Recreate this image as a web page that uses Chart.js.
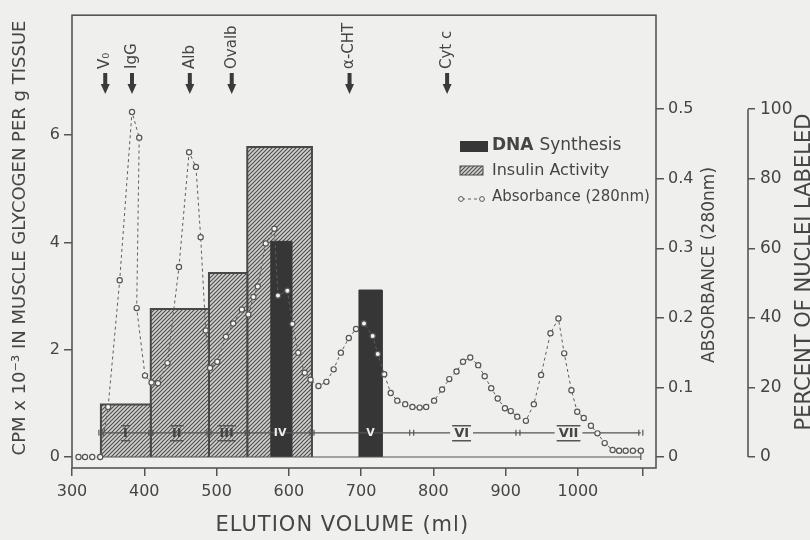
<!DOCTYPE html>
<html>
<head>
<meta charset="utf-8">
<script src="https://cdn.jsdelivr.net/npm/chart.js@4.4.0/dist/chart.umd.min.js"></script>
<style>
  html, body { margin: 0; padding: 0; background: #efefed; }
</style>
</head>
<body>
<canvas id="elutionChart" width="810" height="540"></canvas>
<script>
// Absorbance (280 nm) of the eluate
const volume = [309, 318, 328, 339, 350, 366, 383, 393, 389.5, 401, 410, 419, 432, 448, 462, 471.5, 478, 485, 491, 501,
  513, 523, 535, 544, 551, 557, 568, 580, 585, 598, 605, 613, 622, 630, 641, 652, 662, 672, 683, 693,
  704, 716, 723, 732, 741, 750, 761, 771, 781, 790, 801, 812, 822, 832, 841, 851, 862, 871, 880, 889,
  899, 907, 916, 928, 939, 949, 962, 973, 981, 991, 999, 1008, 1018, 1027, 1037, 1048, 1057, 1066, 1076, 1087];
const absorbance = [0, 0, 0, 0, 0.072, 0.254, 0.496, 0.459, 0.214, 0.117, 0.107, 0.106, 0.135, 0.273, 0.438, 0.417, 0.316, 0.182, 0.128, 0.137,
  0.173, 0.192, 0.212, 0.205, 0.230, 0.245, 0.307, 0.328, 0.232, 0.239, 0.191, 0.150, 0.121, 0.111, 0.102, 0.108, 0.126, 0.150, 0.171, 0.184,
  0.192, 0.174, 0.148, 0.119, 0.092, 0.081, 0.076, 0.072, 0.071, 0.072, 0.081, 0.097, 0.112, 0.123, 0.137, 0.143, 0.132, 0.116, 0.099, 0.084,
  0.070, 0.066, 0.058, 0.052, 0.076, 0.118, 0.178, 0.199, 0.149, 0.096, 0.065, 0.056, 0.045, 0.034, 0.020, 0.010, 0.009, 0.009, 0.009, 0.009];

// Insulin activity per pooled fraction (CPM x 10^-3 in muscle glycogen per g tissue)
const insulinStart = [340, 409, 489.5, 542.5];
const insulinEnd = [409, 489.5, 542.5, 632];
const insulinValue = [0.98, 2.76, 3.43, 5.78];

// DNA synthesis (percent of nuclei labeled)
const dnaStart = [575, 697];
const dnaEnd = [604, 729];
const dnaValue = [62, 48];

// Pooled fractions I - VII
const fractionEdges = [340, 409, 489.5, 542.5, 632, 770, 917, 1087];
const fractionNames = ["I", "II", "III", "IV", "V", "VI", "VII"];
const fractionAt = [374, 445, 514, 588, 713, 839, 987];
const fractionLevel = 0.45;

// Calibration markers
const markerNames = ["V\u2080", "IgG", "Alb", "Ovalb", "\u03b1-CHT", "Cyt c"];
const markerAt = [346, 383, 463, 521, 684, 819];

// Tick labels
const xTicks = [300, 400, 500, 600, 700, 800, 900, 1000, 1090];
const leftTicks = [0, 2, 4, 6];
const absTicks = [0, 0.1, 0.2, 0.3, 0.4, 0.5];
const pctTicks = [0, 20, 40, 60, 80, 100];

const PAPER = "#efefed";
const INK = "#454545";
const LINE = "#555555";
const DARK = "#363636";
const FONT = "DejaVu Sans";

const canvas = document.getElementById("elutionChart");
const ctx = canvas.getContext("2d");

function makeHatch() {
    const c = document.createElement("canvas");
    c.width = 4;
    c.height = 4;
    const g = c.getContext("2d");
    g.fillStyle = "#d2d2d0";
    g.fillRect(0, 0, 4, 4);
    g.strokeStyle = "#505050";
    g.lineWidth = 1.2;
    g.beginPath();
    g.moveTo(-1, 5); g.lineTo(5, -1);
    g.moveTo(-1, 1); g.lineTo(1, -1);
    g.moveTo(3, 5); g.lineTo(5, 3);
    g.stroke();
    return ctx.createPattern(c, "repeat");
}
const hatch = makeHatch();

function box(x0, x1, h) {
    return [{ x: x0, y: 0 }, { x: x0, y: h }, { x: x1, y: h }, { x: x1, y: 0 }];
}

const datasets = [];
datasets.push({
    label: "Absorbance (280 nm)",
    data: volume.map((v, i) => ({ x: v, y: absorbance[i] })),
    yAxisID: "yA",
    order: 0,
    borderColor: "#5e5e5e",
    borderWidth: 1,
    borderDash: [3, 3],
    pointRadius: 2.6,
    pointBorderWidth: 1.2,
    pointBorderColor: LINE,
    pointBackgroundColor: "#f4f4f2",
    tension: 0,
    fill: false
});
dnaValue.forEach((h, i) => datasets.push({
    label: "DNA Synthesis",
    data: box(dnaStart[i], dnaEnd[i], h),
    yAxisID: "yP",
    order: 1,
    borderColor: DARK,
    borderWidth: 1,
    backgroundColor: DARK,
    pointRadius: 0,
    tension: 0,
    fill: "origin"
}));
insulinValue.forEach((h, i) => datasets.push({
    label: "Insulin Activity",
    data: box(insulinStart[i], insulinEnd[i], h),
    yAxisID: "yL",
    order: 2,
    borderColor: "#484848",
    borderWidth: 2,
    backgroundColor: hatch,
    pointRadius: 0,
    tension: 0,
    fill: "origin"
}));

function fixedTicks(list) {
    return scale => { scale.ticks = list.map(v => ({ value: v })); };
}
const tickFont = { family: FONT, size: 16 };
const tickGrid = { drawOnChartArea: false, drawTicks: true, tickLength: 8, color: LINE, lineWidth: 1.5 };

function drawFractions(chart) {
    const c = chart.ctx;
    const x = chart.scales.x, y = chart.scales.yL;
    const ly = y.getPixelForValue(fractionLevel);
    const by = y.getPixelForValue(0);
    const first = x.getPixelForValue(fractionEdges[0]);
    const last = x.getPixelForValue(fractionEdges[fractionEdges.length - 1]);
    c.save();
    c.strokeStyle = LINE;
    c.lineWidth = 1.2;
    // zero line under the pools
    c.beginPath();
    c.moveTo(first, by); c.lineTo(last, by);
    c.moveTo(last, by - 3); c.lineTo(last, by + 3);
    c.stroke();
    // fraction line
    c.beginPath();
    c.moveTo(first, ly); c.lineTo(last, ly);
    c.stroke();
    fractionEdges.forEach(v => {
        const px = x.getPixelForValue(v);
        c.beginPath();
        c.moveTo(px - 2, ly - 3); c.lineTo(px - 2, ly + 3);
        c.moveTo(px + 2, ly - 3); c.lineTo(px + 2, ly + 3);
        c.stroke();
    });
    c.textAlign = "center";
    c.textBaseline = "middle";
    fractionNames.forEach((name, i) => {
        const px = x.getPixelForValue(fractionAt[i]);
        if (name === "IV" || name === "V") {
            c.font = "bold 11px " + FONT;
            c.fillStyle = "#eeeeee";
            c.fillText(name, px, ly);
            return;
        }
        c.font = "bold 13px " + FONT;
        const w = c.measureText(name).width + 4;
        if (i > 4) {
            c.fillStyle = PAPER;
            c.fillRect(px - w / 2 - 2, ly - 7, w + 4, 15);
        }
        c.fillStyle = INK;
        c.fillText(name, px, ly + 1);
        c.lineWidth = 1.5;
        c.beginPath();
        c.moveTo(px - w / 2, ly - 7); c.lineTo(px + w / 2, ly - 7);
        c.moveTo(px - w / 2, ly + 8); c.lineTo(px + w / 2, ly + 8);
        c.stroke();
    });
    c.restore();
}

function vText(c, text, x, y, align) {
    c.save();
    c.translate(x, y);
    c.rotate(-Math.PI / 2);
    c.textAlign = align;
    c.textBaseline = "middle";
    c.fillText(text, 0, 0);
    c.restore();
}

const decor = {
    id: "decor",
    beforeDraw(chart) {
        const c = chart.ctx;
        c.save();
        c.fillStyle = PAPER;
        c.fillRect(0, 0, chart.width, chart.height);
        c.restore();
    },
    beforeDatasetDraw(chart, args) {
        if (args.index === 0) drawFractions(chart);
    },
    afterDraw(chart) {
        const c = chart.ctx;
        const a = chart.chartArea;
        const x = chart.scales.x, yP = chart.scales.yP;
        c.save();
        // frame
        c.strokeStyle = LINE;
        c.lineWidth = 1.6;
        c.strokeRect(a.left, a.top, a.right - a.left, a.bottom - a.top);
        // percent axis bracket
        c.beginPath();
        c.moveTo(yP.left, yP.getPixelForValue(0));
        c.lineTo(yP.left, yP.getPixelForValue(100));
        c.stroke();

        c.fillStyle = INK;
        // axis titles
        c.font = "18px " + FONT;
        vText(c, "CPM x 10\u207b\u00b3 IN MUSCLE GLYCOGEN PER g TISSUE", 20, 238, "center");
        c.font = "17px " + FONT;
        vText(c, "ABSORBANCE (280nm)", 710, 265, "center");
        c.font = "21px " + FONT;
        vText(c, "PERCENT OF NUCLEI LABELED", 805, 272, "center");
        c.textAlign = "center";
        c.textBaseline = "middle";
        c.letterSpacing = "1px";
        c.fillText("ELUTION VOLUME (ml)", x.getPixelForValue(674), 526);
        c.letterSpacing = "0px";

        // calibration markers
        markerNames.forEach((name, i) => {
            const px = x.getPixelForValue(markerAt[i]);
            c.fillStyle = INK;
            c.font = "15px " + FONT;
            vText(c, name, px, 69, "left");
            c.fillStyle = "#3a3a3a";
            c.fillRect(px - 2, 73, 4, 12);
            c.beginPath();
            c.moveTo(px - 4.5, 84); c.lineTo(px + 4.5, 84); c.lineTo(px, 94);
            c.closePath();
            c.fill();
        });

        // legend
        const lx = 460;
        c.fillStyle = DARK;
        c.fillRect(lx, 141, 28, 11);
        c.fillStyle = INK;
        c.textAlign = "left";
        c.font = "bold 17px " + FONT;
        c.fillText("DNA", lx + 32, 146);
        const dw = c.measureText("DNA ").width;
        c.font = "17px " + FONT;
        c.fillText("Synthesis", lx + 32 + dw, 146);
        c.fillStyle = hatch;
        c.fillRect(lx, 166, 23, 9);
        c.strokeStyle = "#4a4a4a";
        c.lineWidth = 1;
        c.strokeRect(lx, 166, 23, 9);
        c.fillStyle = INK;
        c.font = "16px " + FONT;
        c.fillText("Insulin Activity", lx + 32, 171);
        c.strokeStyle = "#5e5e5e";
        c.setLineDash([3, 3]);
        c.beginPath();
        c.moveTo(lx + 2, 199); c.lineTo(lx + 22, 199);
        c.stroke();
        c.setLineDash([]);
        c.strokeStyle = LINE;
        c.fillStyle = "#f4f4f2";
        [lx + 1, lx + 22].forEach(px => {
            c.beginPath();
            c.arc(px, 199, 2.4, 0, Math.PI * 2);
            c.fill();
            c.stroke();
        });
        c.fillStyle = INK;
        c.font = "15px " + FONT;
        c.fillText("Absorbance (280nm)", lx + 32, 197);
        c.restore();
    }
};

new Chart(ctx, {
    type: "line",
    data: { datasets: datasets },
    options: {
        responsive: false,
        animation: false,
        events: [],
        layout: { padding: { top: 15, left: 0, right: 0, bottom: 0 } },
        plugins: {
            legend: { display: false },
            tooltip: { enabled: false }
        },
        scales: {
            x: {
                type: "linear",
                min: 300,
                max: 1108,
                afterBuildTicks: fixedTicks(xTicks),
                afterFit: s => { s.height = 72; },
                grid: tickGrid,
                border: { display: false },
                ticks: {
                    color: INK, font: tickFont, padding: 6, maxRotation: 0, autoSkip: false,
                    callback: v => (v > 1000 ? "" : String(v))
                }
            },
            yL: {
                type: "linear",
                position: "left",
                min: -0.205,
                max: 8.235,
                afterBuildTicks: fixedTicks(leftTicks),
                afterFit: s => { s.width = 72; },
                grid: tickGrid,
                border: { display: false },
                ticks: { color: INK, font: tickFont, padding: 4 }
            },
            yA: {
                type: "linear",
                position: "right",
                weight: 1,
                min: -0.0158,
                max: 0.635,
                afterBuildTicks: fixedTicks(absTicks),
                afterFit: s => { s.width = 92; },
                grid: tickGrid,
                border: { display: false },
                ticks: {
                    color: INK, font: tickFont, padding: 4,
                    callback: v => (v === 0 ? "0" : v.toFixed(1))
                }
            },
            yP: {
                type: "linear",
                position: "right",
                weight: 2,
                min: -3.16,
                max: 127,
                afterBuildTicks: fixedTicks(pctTicks),
                afterFit: s => { s.width = 62; },
                grid: { drawOnChartArea: false, drawTicks: true, tickLength: 7, color: LINE, lineWidth: 1.5 },
                border: { display: false },
                ticks: { color: INK, font: { family: FONT, size: 17 }, padding: 5 }
            }
        }
    },
    plugins: [decor]
});
</script>
</body>
</html>
